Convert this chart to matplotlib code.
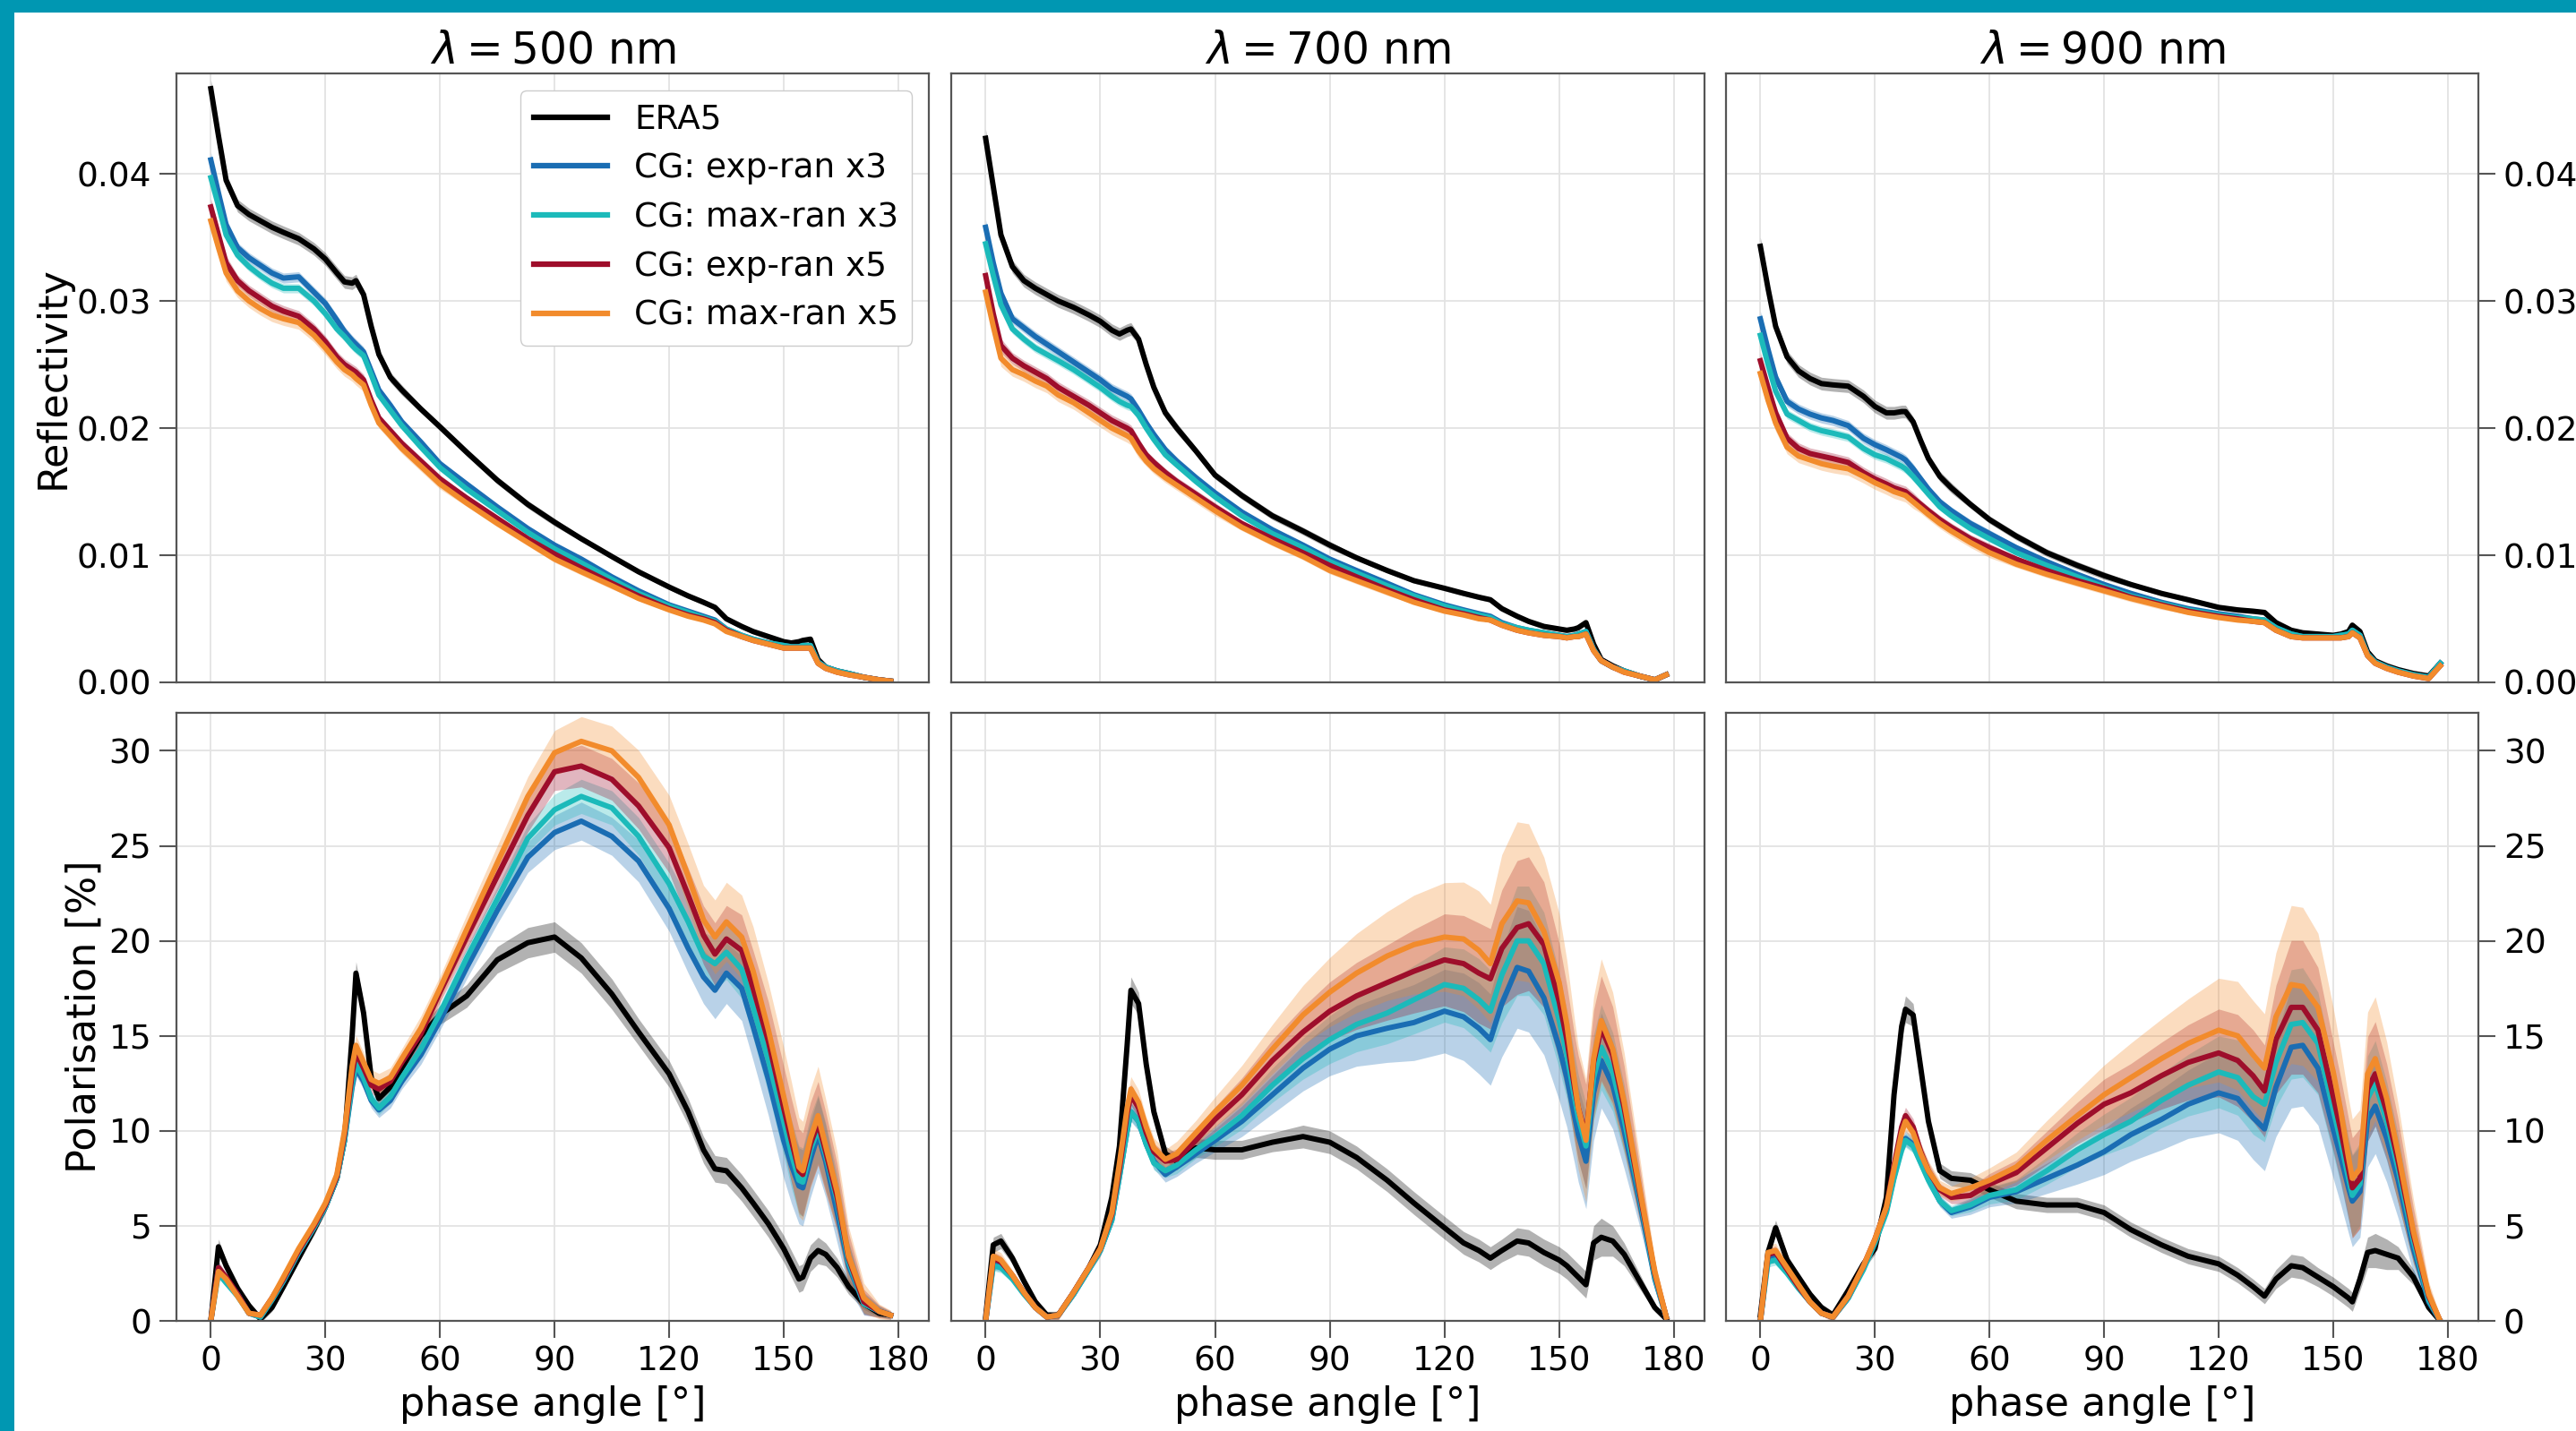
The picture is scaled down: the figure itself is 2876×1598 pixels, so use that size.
import numpy as np
import matplotlib
matplotlib.use("Agg")
import matplotlib.pyplot as plt
from matplotlib.patches import Rectangle

# ---------------- data ----------------
phase = [0, 2, 4, 7, 10, 13, 16, 19, 23, 27,
         30, 33, 35, 37, 38, 40, 42, 44, 47, 50,
         55, 60, 67, 75, 83, 90, 97, 105, 112, 120,
         125, 129, 132, 135, 139, 142, 146,
         150, 152, 154, 155, 157, 159, 161, 164, 167, 171,
         175, 178]

wavelengths = [500, 700, 900]
series_labels = ["ERA5", "CG: exp-ran x3", "CG: max-ran x3", "CG: exp-ran x5", "CG: max-ran x5"]
series_colors = ["black", "#1a6db3", "#1cbaba", "#9e0e2b", "#f28b2c"]
band_scale = [1.0, 1.0, 0.9, 1.1, 1.3]

# Reflectivity, 500 nm
refl_500_era5 = [.0467, .0430, .0395, .0375, .0368, .0363, .0358, .0354, .0349, .0341,
                 .0333, .0322, .0315, .0314, .0316, .0305, .0280, .0258, .0240, .0230,
                 .0215, .0201, .0181, .0159, .0140, .0126, .0113, .0099, .0087, .0075,
                 .0068, .0063, .0059, .0050, .0044, .0040, .0036,
                 .0032, .0031, .0032, .0033, .0034, .0018, .0012, .0009, .0007, .0004,
                 .0002, .0001]
refl_500_exp3 = [.0411, .0385, .0360, .0342, .0334, .0328, .0322, .0318, .0319, .0307,
                 .0298, .0285, .0276, .0269, .0266, .0260, .0245, .0230, .0218, .0205,
                 .0189, .0172, .0156, .0138, .0121, .0108, .0097, .0083, .0072, .0061,
                 .0056, .0052, .0049, .0042, .0037, .0034, .0031,
                 .0029, .0028, .0028, .0029, .0029, .0016, .0012, .0009, .0007, .0004,
                 .0002, .0001]
refl_500_max3 = [.0397, .0375, .0352, .0336, .0327, .0320, .0314, .0310, .0310, .0300,
                 .0290, .0278, .0272, .0265, .0262, .0257, .0242, .0226, .0214, .0202,
                 .0185, .0169, .0152, .0135, .0118, .0105, .0094, .0081, .0070, .0060,
                 .0055, .0051, .0048, .0042, .0037, .0034, .0031,
                 .0029, .0028, .0028, .0029, .0029, .0016, .0012, .0009, .0007, .0004,
                 .0002, .0001]
refl_500_exp5 = [.0374, .0352, .0330, .0316, .0308, .0302, .0296, .0292, .0288, .0278,
                 .0268, .0256, .0250, .0246, .0244, .0238, .0222, .0208, .0198, .0188,
                 .0174, .0160, .0145, .0129, .0113, .0101, .0090, .0078, .0068, .0058,
                 .0053, .0050, .0047, .0041, .0036, .0033, .0030,
                 .0027, .0027, .0027, .0027, .0027, .0015, .0011, .0008, .0006, .0004,
                 .0002, .0001]
refl_500_max5 = [.0363, .0342, .0322, .0308, .0300, .0294, .0289, .0286, .0283, .0273,
                 .0263, .0252, .0246, .0242, .0239, .0234, .0218, .0204, .0194, .0184,
                 .0170, .0156, .0141, .0125, .0110, .0097, .0087, .0076, .0066, .0057,
                 .0052, .0049, .0046, .0040, .0036, .0033, .0030,
                 .0027, .0027, .0027, .0027, .0027, .0015, .0011, .0008, .0006, .0004,
                 .0002, .0001]

# Reflectivity, 700 nm
refl_700_era5 = [.0428, .0390, .0352, .0327, .0316, .0310, .0305, .0300, .0295, .0289,
                 .0284, .0277, .0274, .0277, .0278, .0270, .0250, .0232, .0212, .0200,
                 .0182, .0163, .0147, .0131, .0119, .0108, .0098, .0088, .0080, .0074,
                 .0070, .0067, .0065, .0058, .0052, .0048, .0044,
                 .0042, .0041, .0042, .0043, .0047, .0030, .0018, .0013, .0009, .0005,
                 .0002, .0006]
refl_700_exp3 = [.0358, .0330, .0306, .0286, .0279, .0272, .0266, .0260, .0252, .0244,
                 .0238, .0231, .0228, .0225, .0223, .0214, .0204, .0195, .0183, .0174,
                 .0161, .0149, .0134, .0120, .0108, .0097, .0088, .0078, .0069, .0061,
                 .0057, .0054, .0052, .0047, .0043, .0041, .0039,
                 .0037, .0036, .0037, .0038, .0040, .0026, .0017, .0012, .0009, .0005,
                 .0002, .0006]
refl_700_max3 = [.0345, .0320, .0297, .0278, .0270, .0263, .0258, .0253, .0246, .0238,
                 .0232, .0225, .0221, .0218, .0217, .0210, .0200, .0191, .0179, .0171,
                 .0158, .0146, .0131, .0117, .0106, .0095, .0086, .0076, .0068, .0060,
                 .0056, .0053, .0051, .0046, .0043, .0041, .0039,
                 .0037, .0036, .0037, .0038, .0040, .0026, .0017, .0012, .0009, .0005,
                 .0002, .0006]
refl_700_exp5 = [.0320, .0290, .0265, .0255, .0249, .0244, .0239, .0232, .0225, .0218,
                 .0212, .0206, .0203, .0200, .0198, .0188, .0179, .0173, .0165, .0158,
                 .0148, .0138, .0125, .0113, .0102, .0092, .0083, .0073, .0065, .0057,
                 .0054, .0051, .0049, .0045, .0041, .0039, .0037,
                 .0036, .0035, .0036, .0036, .0038, .0025, .0017, .0012, .0008, .0005,
                 .0002, .0006]
refl_700_max5 = [.0307, .0280, .0255, .0246, .0242, .0237, .0233, .0226, .0220, .0212,
                 .0206, .0200, .0197, .0194, .0192, .0182, .0174, .0168, .0161, .0155,
                 .0145, .0135, .0122, .0110, .0099, .0088, .0080, .0071, .0063, .0056,
                 .0053, .0050, .0049, .0045, .0041, .0039, .0037,
                 .0036, .0035, .0036, .0036, .0038, .0025, .0017, .0012, .0008, .0005,
                 .0002, .0006]

# Reflectivity, 900 nm
refl_900_era5 = [.0343, .0310, .0280, .0256, .0245, .0239, .0235, .0234, .0233, .0225,
                 .0217, .0212, .0212, .0213, .0213, .0205, .0190, .0176, .0162, .0153,
                 .0140, .0128, .0115, .0102, .0092, .0084, .0077, .0070, .0065, .0059,
                 .0057, .0056, .0055, .0047, .0041, .0039, .0038,
                 .0037, .0038, .0040, .0045, .0040, .0024, .0017, .0013, .0010, .0007,
                 .0005, .0015]
refl_900_exp3 = [.0286, .0262, .0240, .0221, .0215, .0211, .0208, .0206, .0202, .0192,
                 .0187, .0183, .0180, .0177, .0175, .0168, .0160, .0152, .0142, .0135,
                 .0125, .0117, .0106, .0095, .0085, .0077, .0070, .0063, .0058, .0054,
                 .0052, .0050, .0049, .0043, .0038, .0036, .0036,
                 .0036, .0037, .0038, .0041, .0037, .0022, .0016, .0012, .0009, .0006,
                 .0004, .0015]
refl_900_max3 = [.0273, .0250, .0229, .0211, .0206, .0201, .0198, .0196, .0193, .0184,
                 .0179, .0176, .0173, .0170, .0168, .0162, .0155, .0148, .0138, .0131,
                 .0121, .0113, .0102, .0092, .0083, .0075, .0068, .0062, .0057, .0053,
                 .0051, .0050, .0049, .0043, .0038, .0036, .0036,
                 .0036, .0037, .0038, .0041, .0037, .0022, .0016, .0012, .0009, .0006,
                 .0004, .0015]
refl_900_exp5 = [.0253, .0232, .0212, .0192, .0184, .0180, .0178, .0176, .0173, .0165,
                 .0160, .0156, .0153, .0151, .0150, .0145, .0140, .0135, .0128, .0122,
                 .0113, .0106, .0097, .0088, .0080, .0074, .0067, .0061, .0056, .0052,
                 .0050, .0048, .0047, .0041, .0036, .0035, .0035,
                 .0035, .0035, .0036, .0039, .0035, .0021, .0015, .0011, .0008, .0005,
                 .0003, .0013]
refl_900_max5 = [.0243, .0222, .0204, .0185, .0178, .0175, .0172, .0170, .0168, .0162,
                 .0157, .0153, .0150, .0148, .0147, .0142, .0137, .0132, .0125, .0119,
                 .0110, .0102, .0093, .0085, .0078, .0072, .0066, .0060, .0055, .0051,
                 .0049, .0048, .0047, .0041, .0036, .0035, .0035,
                 .0035, .0035, .0036, .0039, .0035, .0021, .0015, .0011, .0008, .0005,
                 .0003, .0013]

# Polarisation [%], 500 nm
pol_500_era5 = [0.0, 3.9, 2.9, 1.7, 0.8, 0.1, 0.7, 1.8, 3.3, 4.8,
                6.0, 7.5, 9.5, 15.0, 18.3, 16.2, 12.8, 11.7, 12.3, 13.3,
                15.0, 16.1, 17.1, 19.0, 19.9, 20.2, 19.1, 17.2, 15.2, 13.0,
                11.0, 9.0, 8.0, 7.9, 7.0, 6.2, 5.1,
                3.8, 3.0, 2.2, 2.3, 3.3, 3.7, 3.5, 2.8, 1.8, 0.9,
                0.4, 0.3]
pol_500_exp3 = [0.0, 2.8, 2.2, 1.4, 0.4, 0.2, 1.1, 2.1, 3.6, 4.9,
                6.0, 7.5, 9.5, 12.3, 13.3, 12.6, 11.6, 11.1, 11.6, 12.6,
                14.0, 15.8, 18.6, 21.6, 24.4, 25.7, 26.3, 25.5, 24.2, 21.7,
                19.6, 18.1, 17.4, 18.3, 17.5, 15.5, 12.7,
                9.5, 8.2, 7.1, 7.0, 8.5, 9.8, 8.4, 5.7, 2.9, 0.9,
                0.5, 0.3]
pol_500_max3 = [0.0, 2.5, 2.0, 1.3, 0.4, 0.2, 1.1, 2.1, 3.6, 4.9,
                6.0, 7.5, 9.5, 12.5, 13.5, 12.8, 11.7, 11.2, 11.8, 12.8,
                14.3, 16.2, 19.1, 22.2, 25.4, 26.9, 27.6, 27.0, 25.5, 23.0,
                21.0, 19.2, 18.8, 19.4, 18.5, 16.5, 13.7,
                10.5, 8.8, 7.4, 7.3, 9.0, 10.1, 8.7, 6.3, 3.1, 0.9,
                0.5, 0.3]
pol_500_exp5 = [0.0, 2.8, 2.3, 1.4, 0.4, 0.3, 1.2, 2.2, 3.7, 5.0,
                6.1, 7.6, 9.8, 13.0, 14.1, 13.3, 12.4, 12.2, 12.6, 13.6,
                15.1, 17.3, 20.2, 23.4, 26.6, 28.9, 29.2, 28.5, 27.1, 24.9,
                22.4, 20.3, 19.3, 20.1, 19.5, 17.5, 14.7,
                11.2, 9.5, 7.9, 7.7, 9.3, 10.4, 8.9, 6.5, 3.3, 1.0,
                0.5, 0.3]
pol_500_max5 = [0.0, 2.6, 2.2, 1.3, 0.4, 0.3, 1.2, 2.3, 3.8, 5.1,
                6.2, 7.7, 10.0, 13.4, 14.5, 13.6, 12.7, 12.5, 12.8, 13.8,
                15.4, 17.5, 20.6, 24.1, 27.6, 29.9, 30.5, 30.0, 28.6, 26.1,
                23.4, 21.1, 20.2, 21.0, 20.2, 18.4, 15.3,
                11.8, 10.0, 8.1, 7.9, 9.6, 10.8, 9.2, 6.8, 3.4, 1.2,
                0.5, 0.3]

# Polarisation [%], 700 nm
pol_700_era5 = [0.2, 4.0, 4.2, 3.3, 2.1, 1.0, 0.3, 0.3, 1.5, 2.8,
                4.0, 6.5, 9.2, 14.5, 17.4, 16.7, 13.5, 11.0, 8.8, 8.4,
                9.1, 9.0, 9.0, 9.4, 9.7, 9.4, 8.6, 7.4, 6.2, 4.9,
                4.1, 3.7, 3.3, 3.7, 4.2, 4.1, 3.6,
                3.2, 2.9, 2.5, 2.3, 1.9, 4.1, 4.4, 4.2, 3.5, 2.1,
                0.7, 0.1]
pol_700_exp3 = [0.0, 3.0, 2.9, 2.3, 1.5, 0.7, 0.2, 0.3, 1.4, 2.7,
                3.7, 5.3, 7.6, 10.0, 11.0, 10.5, 9.3, 8.4, 7.7, 8.1,
                8.8, 9.5, 10.5, 11.9, 13.3, 14.3, 15.0, 15.4, 15.7, 16.3,
                16.0, 15.4, 14.8, 16.7, 18.6, 18.4, 17.0,
                14.4, 12.8, 10.8, 9.8, 8.4, 12.0, 13.7, 12.4, 10.0, 6.3,
                2.2, 0.2]
pol_700_max3 = [0.0, 2.9, 2.8, 2.2, 1.4, 0.7, 0.2, 0.3, 1.4, 2.7,
                3.7, 5.3, 7.6, 10.0, 11.0, 10.5, 9.3, 8.3, 7.9, 8.2,
                9.0, 9.7, 10.8, 12.4, 13.8, 14.8, 15.6, 16.2, 16.9, 17.7,
                17.5, 16.9, 16.3, 18.2, 20.0, 20.0, 18.8,
                15.8, 14.0, 11.8, 10.7, 9.2, 12.8, 14.4, 13.1, 10.6, 6.6,
                2.3, 0.2]
pol_700_exp5 = [0.0, 3.3, 3.1, 2.4, 1.5, 0.7, 0.2, 0.3, 1.5, 2.8,
                3.8, 5.6, 8.0, 10.9, 11.9, 11.2, 9.9, 8.9, 8.4, 8.5,
                9.5, 10.6, 11.9, 13.7, 15.2, 16.3, 17.1, 17.8, 18.4, 19.0,
                18.8, 18.3, 18.0, 19.6, 20.7, 20.9, 19.8,
                16.8, 14.8, 12.3, 11.2, 9.7, 13.6, 15.4, 14.0, 11.2, 6.8,
                2.5, 0.2]
pol_700_max5 = [0.0, 3.4, 3.2, 2.4, 1.5, 0.7, 0.2, 0.3, 1.5, 2.8,
                3.8, 5.7, 8.3, 11.2, 12.2, 11.5, 10.2, 9.1, 8.5, 8.8,
                9.9, 11.0, 12.4, 14.3, 16.1, 17.3, 18.3, 19.2, 19.8, 20.2,
                20.1, 19.5, 18.8, 20.9, 22.1, 22.0, 20.5,
                17.8, 15.6, 12.6, 11.2, 9.5, 13.8, 15.8, 14.3, 11.5, 7.0,
                2.6, 0.2]

# Polarisation [%], 900 nm
pol_900_era5 = [0.3, 3.6, 4.9, 3.2, 2.3, 1.4, 0.7, 0.3, 1.6, 3.0,
                3.8, 6.5, 11.9, 15.5, 16.4, 16.1, 13.3, 10.5, 7.9, 7.5,
                7.4, 6.9, 6.3, 6.1, 6.1, 5.7, 4.8, 4.0, 3.4, 3.0,
                2.4, 1.8, 1.3, 2.2, 2.9, 2.8, 2.3,
                1.8, 1.5, 1.2, 1.0, 2.2, 3.6, 3.7, 3.5, 3.3, 2.3,
                0.7, 0.0]
pol_900_exp3 = [0.0, 3.3, 3.4, 2.6, 1.8, 1.0, 0.4, 0.2, 1.2, 2.8,
                4.2, 5.8, 7.6, 9.2, 9.6, 9.3, 8.4, 7.5, 6.3, 5.7,
                6.0, 6.5, 6.8, 7.5, 8.2, 8.9, 9.8, 10.6, 11.4, 12.0,
                11.7, 10.7, 10.1, 12.3, 14.4, 14.5, 13.3,
                10.1, 8.6, 7.0, 6.3, 6.8, 10.6, 11.3, 9.6, 7.4, 3.8,
                1.0, 0.0]
pol_900_max3 = [0.0, 3.1, 3.2, 2.5, 1.7, 1.0, 0.4, 0.2, 1.2, 2.7,
                4.1, 5.7, 7.5, 9.0, 9.5, 9.2, 8.3, 7.4, 6.3, 5.8,
                6.1, 6.6, 6.9, 7.9, 9.0, 9.8, 10.5, 11.6, 12.4, 13.1,
                12.8, 11.8, 11.4, 13.6, 15.6, 15.7, 14.6,
                11.1, 9.4, 7.5, 6.6, 7.2, 11.7, 12.5, 10.5, 8.0, 4.2,
                1.1, 0.0]
pol_900_exp5 = [0.0, 3.5, 3.6, 2.7, 1.8, 1.0, 0.4, 0.2, 1.3, 2.9,
                4.3, 6.0, 8.2, 10.2, 10.8, 10.2, 8.9, 7.9, 6.9, 6.5,
                6.6, 7.2, 7.8, 9.1, 10.4, 11.4, 12.0, 12.9, 13.6, 14.1,
                13.7, 12.9, 12.1, 14.8, 16.5, 16.5, 15.3,
                11.8, 10.0, 8.0, 7.0, 7.5, 12.2, 13.0, 11.0, 8.4, 4.5,
                1.3, 0.0]
pol_900_max5 = [0.0, 3.6, 3.7, 2.8, 1.9, 1.0, 0.4, 0.2, 1.3, 2.9,
                4.3, 6.0, 8.0, 9.9, 10.5, 9.9, 8.8, 7.9, 7.0, 6.7,
                7.0, 7.4, 8.1, 9.5, 10.8, 11.9, 12.8, 13.8, 14.6, 15.3,
                15.0, 14.0, 13.3, 16.0, 17.7, 17.6, 16.5,
                13.1, 11.0, 8.6, 7.5, 8.0, 13.0, 13.8, 11.7, 8.8, 4.7,
                1.4, 0.0]

# Half-widths of the shaded spread
refl_spread_era5 = [.0007, .0006, .0005, .0005, .0005, .0005, .0005, .0005, .0005, .0005,
                    .0005, .0005, .0005, .0005, .0005, .0004, .0004, .0004, .0004, .0004,
                    .0003, .0003, .0003, .0003, .0003, .0003, .0002, .0002, .0002, .0002,
                    .0002, .0002, .0002, .0002, .0002, .0002, .0002,
                    .0002, .0002, .0002, .0002, .0002, .0002, .0001, .0001, .0001, .0001,
                    .0001, .0001]
refl_spread_cg = [.0006, .0005, .0005, .0004, .0004, .0004, .0004, .0004, .0004, .0004,
                  .0004, .0004, .0004, .0004, .0004, .0004, .0003, .0003, .0003, .0003,
                  .0003, .0003, .0002, .0002, .0002, .0002, .0002, .0002, .0001, .0001,
                  .0001, .0001, .0001, .0001, .0001, .0001, .0001,
                  .0001, .0001, .0001, .0001, .0001, .0001, .0001, .0001, .0001, .0001,
                  .0001, .0001]
pol_spread_500_era5 = [0.2, 0.4, 0.3, 0.3, 0.2, 0.2, 0.2, 0.2, 0.2, 0.3,
                       0.3, 0.3, 0.4, 0.6, 0.6, 0.5, 0.4, 0.4, 0.4, 0.5,
                       0.5, 0.5, 0.6, 0.7, 0.8, 0.8, 0.8, 0.8, 0.7, 0.7,
                       0.7, 0.7, 0.7, 0.7, 0.7, 0.7, 0.7,
                       0.7, 0.7, 0.7, 0.7, 0.7, 0.7, 0.6, 0.5, 0.4, 0.3,
                       0.2, 0.1]
pol_spread_700_era5 = [0.2, 0.4, 0.4, 0.3, 0.2, 0.2, 0.2, 0.2, 0.2, 0.3,
                       0.3, 0.3, 0.4, 0.6, 0.7, 0.6, 0.5, 0.4, 0.4, 0.4,
                       0.5, 0.5, 0.5, 0.5, 0.6, 0.6, 0.6, 0.6, 0.6, 0.6,
                       0.6, 0.6, 0.6, 0.6, 0.7, 0.7, 0.7,
                       0.7, 0.7, 0.7, 0.7, 0.7, 0.9, 1.0, 0.8, 0.6, 0.4,
                       0.2, 0.1]
pol_spread_900_era5 = [0.2, 0.4, 0.4, 0.3, 0.2, 0.2, 0.2, 0.2, 0.2, 0.3,
                       0.3, 0.3, 0.4, 0.6, 0.7, 0.6, 0.5, 0.4, 0.4, 0.4,
                       0.4, 0.4, 0.4, 0.4, 0.4, 0.4, 0.4, 0.4, 0.4, 0.4,
                       0.4, 0.4, 0.4, 0.5, 0.6, 0.6, 0.5,
                       0.5, 0.5, 0.5, 0.5, 0.6, 0.8, 0.9, 0.8, 0.6, 0.4,
                       0.2, 0.1]
pol_spread_500_cg = [0.1, 0.3, 0.2, 0.2, 0.1, 0.1, 0.1, 0.2, 0.2, 0.2,
                     0.3, 0.3, 0.3, 0.4, 0.4, 0.4, 0.4, 0.4, 0.4, 0.4,
                     0.5, 0.5, 0.6, 0.7, 0.8, 0.9, 1.0, 1.0, 1.1, 1.2,
                     1.3, 1.4, 1.5, 1.6, 1.7, 1.8, 1.9,
                     2.0, 2.0, 2.0, 2.0, 2.0, 2.0, 1.9, 1.6, 1.2, 0.6,
                     0.3, 0.2]
pol_spread_700_cg = [0.1, 0.3, 0.3, 0.2, 0.1, 0.1, 0.1, 0.2, 0.2, 0.2,
                     0.3, 0.3, 0.4, 0.5, 0.5, 0.5, 0.4, 0.4, 0.4, 0.5,
                     0.5, 0.6, 0.8, 1.0, 1.2, 1.4, 1.6, 1.8, 2.0, 2.2,
                     2.3, 2.4, 2.4, 2.8, 3.2, 3.2, 3.0,
                     2.8, 2.6, 2.5, 2.5, 2.5, 2.5, 2.5, 2.3, 2.0, 1.3,
                     0.5, 0.2]
pol_spread_900_cg = [0.1, 0.3, 0.3, 0.2, 0.1, 0.1, 0.1, 0.2, 0.2, 0.2,
                     0.3, 0.3, 0.4, 0.4, 0.4, 0.4, 0.4, 0.4, 0.3, 0.3,
                     0.4, 0.5, 0.6, 0.8, 1.0, 1.2, 1.4, 1.6, 1.8, 2.1,
                     2.2, 2.2, 2.2, 2.6, 3.2, 3.2, 3.0,
                     2.6, 2.5, 2.4, 2.4, 2.4, 2.5, 2.5, 2.3, 2.0, 1.3,
                     0.5, 0.2]

refl_data = {
    500: [refl_500_era5, refl_500_exp3, refl_500_max3, refl_500_exp5, refl_500_max5],
    700: [refl_700_era5, refl_700_exp3, refl_700_max3, refl_700_exp5, refl_700_max5],
    900: [refl_900_era5, refl_900_exp3, refl_900_max3, refl_900_exp5, refl_900_max5],
}
pol_data = {
    500: [pol_500_era5, pol_500_exp3, pol_500_max3, pol_500_exp5, pol_500_max5],
    700: [pol_700_era5, pol_700_exp3, pol_700_max3, pol_700_exp5, pol_700_max5],
    900: [pol_900_era5, pol_900_exp3, pol_900_max3, pol_900_exp5, pol_900_max5],
}
pol_spread = {
    500: (pol_spread_500_era5, pol_spread_500_cg),
    700: (pol_spread_700_era5, pol_spread_700_cg),
    900: (pol_spread_900_era5, pol_spread_900_cg),
}

x_ticks = [0, 30, 60, 90, 120, 150, 180]
refl_ticks = [0.0, 0.01, 0.02, 0.03, 0.04]
pol_ticks = [0, 5, 10, 15, 20, 25, 30]

# ---------------- figure ----------------
W, H = 2876, 1598
fig = plt.figure(figsize=(W / 100, H / 100), dpi=100)
fig.patch.set_facecolor("white")

teal = "#0097B2"
fig.patches.append(Rectangle((0, 0), 16 / W, 1, transform=fig.transFigure,
                             facecolor=teal, edgecolor="none", zorder=10))
fig.patches.append(Rectangle((0, 1 - 14 / H), 1, 14 / H, transform=fig.transFigure,
                             facecolor=teal, edgecolor="none", zorder=10))

col_x = [197, 1062, 1927]
col_w = [840, 841, 840]
row_y = [82, 796]
row_h = [680, 679]

spine_col = "#555555"
x = np.array(phase)

for r in range(2):
    for c, wl in enumerate(wavelengths):
        ax = fig.add_axes([col_x[c] / W, 1 - (row_y[r] + row_h[r]) / H,
                           col_w[c] / W, row_h[r] / H])
        ax.set_axisbelow(True)
        ax.grid(True, color="#e3e3e3", lw=1.3)
        for sp in ax.spines.values():
            sp.set_color(spine_col)
            sp.set_linewidth(1.6)

        if r == 0:
            vals = refl_data[wl]
            spreads = [refl_spread_era5] + [refl_spread_cg] * 4
        else:
            vals = pol_data[wl]
            se, sc = pol_spread[wl]
            spreads = [se] + [sc] * 4

        for i in range(5):
            v = np.array(vals[i])
            s = np.array(spreads[i]) * band_scale[i]
            ax.fill_between(x, v - s, v + s, color=series_colors[i], alpha=0.3, lw=0)
        for i in range(5):
            ax.plot(x, vals[i], color=series_colors[i], lw=4.3, label=series_labels[i],
                    solid_joinstyle="round")

        ax.set_xlim(-9, 188)
        ax.set_xticks(x_ticks)
        if r == 0:
            ax.set_ylim(0, 0.0479)
            ax.set_yticks(refl_ticks)
            ax.set_yticklabels([f"{t:.2f}" for t in refl_ticks])
        else:
            ax.set_ylim(0, 32)
            ax.set_yticks(pol_ticks)

        ax.tick_params(axis="both", direction="out", length=14, width=1.5,
                       color=spine_col, labelsize=27, pad=6)
        if r == 0:
            ax.tick_params(axis="x", length=0, labelbottom=False)
            ax.set_title(f"$\\lambda = {wl}$ nm", fontsize=35, pad=8)
        else:
            ax.set_xlabel("phase angle [°]", fontsize=32, labelpad=6)

        if c == 1:
            ax.tick_params(axis="y", length=0, labelleft=False)
        elif c == 2:
            ax.yaxis.tick_right()
            ax.tick_params(axis="y", left=False, right=True,
                           labelleft=False, labelright=True)
        if c == 0:
            ax.set_ylabel("Reflectivity" if r == 0 else "Polarisation [%]", fontsize=32)

        if r == 0 and c == 0:
            leg = ax.legend(loc="upper right", fontsize=27, framealpha=1.0,
                            edgecolor="#cccccc", borderaxespad=0.5,
                            handlelength=2.2)
            for line in leg.get_lines():
                line.set_linewidth(4.5)

fig.savefig("out.png", dpi=100)
